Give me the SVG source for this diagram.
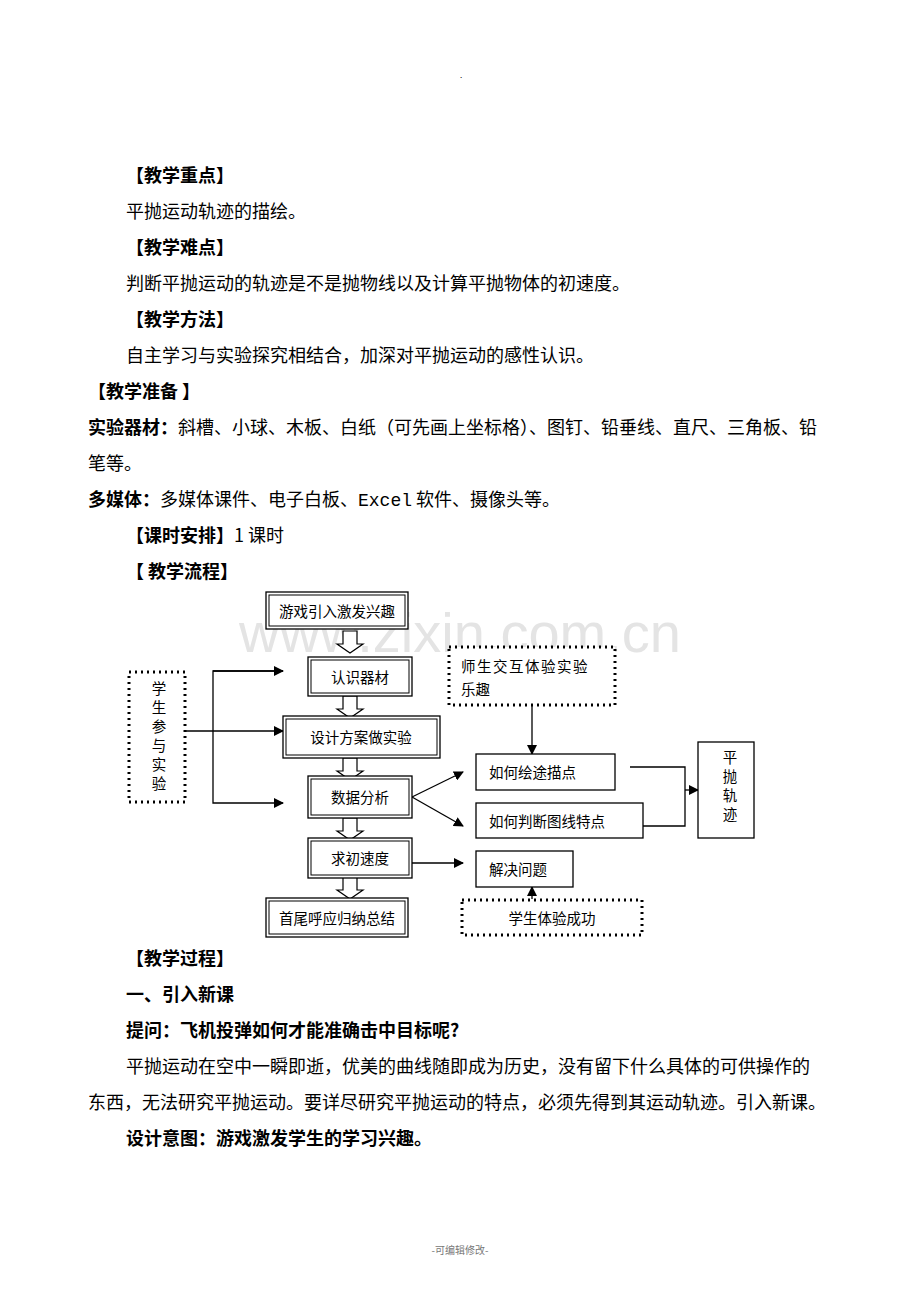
<svg xmlns="http://www.w3.org/2000/svg" width="920" height="1302" viewBox="0 0 920 1302">
<style>
text{font-family:"Noto Sans CJK SC","Liberation Sans",sans-serif;fill:#000}
.p{font-size:18px}
.b{font-size:18px;font-weight:bold}
.f{font-size:14.5px}
.box{fill:#fff;stroke:#000;stroke-width:1.3}
.dbl{fill:none;stroke:#000;stroke-width:1}
.dot{fill:#fff;stroke:#000;stroke-width:3;stroke-dasharray:2,4}
.ln{fill:none;stroke:#000;stroke-width:1.3}
.blk{fill:#fff;stroke:#000;stroke-width:1.2}
</style>
<defs>
<marker id="ah" markerWidth="10" markerHeight="10" refX="9" refY="5" orient="auto" markerUnits="userSpaceOnUse"><path d="M0,0 L10,5 L0,10 Z" fill="#000"/></marker>
<path id="blk" d="M-7,0 H7 V13 H13 L0,22 L-13,13 H-7 Z"/>
</defs>
<rect width="920" height="1302" fill="#fff"/>
<text x="460" y="78" font-size="8" fill="#999">.</text>
<text x="126" y="182" class="b">【教学重点】</text>
<text x="126" y="218" class="p">平抛运动轨迹的描绘。</text>
<text x="126" y="254" class="b">【教学难点】</text>
<text x="126" y="290" class="p">判断平抛运动的轨迹是不是抛物线以及计算平抛物体的初速度。</text>
<text x="126" y="326" class="b">【教学方法】</text>
<text x="126" y="362" class="p">自主学习与实验探究相结合，加深对平抛运动的感性认识。</text>
<text x="88" y="398" class="b">【教学准备 】</text>
<text x="88" y="434" class="p"><tspan font-weight="bold">实验器材：</tspan>斜槽、小球、木板、白纸（可先画上坐标格）、图钉、铅垂线、直尺、三角板、铅</text>
<text x="88" y="470" class="p">笔等。</text>
<text x="88" y="506" class="p"><tspan font-weight="bold">多媒体：</tspan>多媒体课件、电子白板、<tspan font-family="Liberation Mono,monospace">Excel</tspan> 软件、摄像头等。</text>
<text x="126" y="542" class="p"><tspan font-weight="bold">【课时安排】</tspan>1 课时</text>
<text x="126" y="578" class="b">【 教学流程】</text>
<text x="460" y="652" font-size="56" text-anchor="middle" style="fill:#e4e4e4;font-family:'Liberation Sans',sans-serif">www.zixin.com.cn</text>

<g id="connectors">
<use href="#blk" x="350" y="631" class="blk"/>
<use href="#blk" x="350" y="696" class="blk"/>
<use href="#blk" x="350" y="758" class="blk"/>
<use href="#blk" x="350" y="818" class="blk"/>
<use href="#blk" x="350" y="877" class="blk"/>
<path class="ln" d="M186,731 H283" marker-end="url(#ah)"/>
<path class="ln" d="M283,671 H213 V803 H283" marker-end="url(#ah)"/>
<path class="ln" d="M213,671 H283" marker-end="url(#ah)"/>
<path class="ln" d="M412,797 L463,772" marker-end="url(#ah)"/>
<path class="ln" d="M412,797 L463,826" marker-end="url(#ah)"/>
<path class="ln" d="M532,706 V754" marker-end="url(#ah)"/>
<path class="ln" d="M630,767 H685 V826 H643"/>
<path class="ln" d="M685,790 H698" marker-end="url(#ah)"/>
<path class="ln" d="M412,863 H463" marker-end="url(#ah)"/>
<path class="ln" d="M532,899 V887" marker-end="url(#ah)"/>
</g>

<g id="n1"><rect x="266" y="592" width="142" height="37" class="box"/><rect x="269" y="595" width="136" height="31" class="dbl"/><text x="337" y="617" class="f" text-anchor="middle">游戏引入激发兴趣</text></g>
<g id="n2"><rect x="308" y="657" width="104" height="39" class="box" stroke-width="2"/><rect x="311" y="660" width="98" height="33" class="dbl" stroke-width="2"/><text x="360" y="683" class="f" text-anchor="middle">认识器材</text></g>
<g id="n3"><rect x="283" y="716" width="157" height="42" class="box"/><rect x="286" y="719" width="151" height="36" class="dbl" stroke-width="2"/><text x="361" y="743" class="f" text-anchor="middle">设计方案做实验</text></g>
<g id="n4"><rect x="308" y="776" width="104" height="42" class="box"/><rect x="311" y="779" width="98" height="36" class="dbl" stroke-width="2"/><text x="360" y="803" class="f" text-anchor="middle">数据分析</text></g>
<g id="n5"><rect x="308" y="838" width="104" height="40" class="box"/><rect x="311" y="841" width="98" height="34" class="dbl" stroke-width="2"/><text x="360" y="864" class="f" text-anchor="middle">求初速度</text></g>
<g id="n6"><rect x="266" y="898" width="142" height="39" class="box"/><rect x="269" y="901" width="136" height="33" class="dbl"/><text x="337" y="924" class="f" text-anchor="middle">首尾呼应归纳总结</text></g>
<g id="n7"><rect x="129" y="672" width="56" height="130" class="dot"/><text class="f" text-anchor="middle"><tspan x="159" y="694">学</tspan><tspan x="159" y="713">生</tspan><tspan x="159" y="732">参</tspan><tspan x="159" y="751">与</tspan><tspan x="159" y="770">实</tspan><tspan x="159" y="789">验</tspan></text></g>
<g id="n8"><rect x="449" y="647" width="166" height="58" class="dot"/><text x="461" y="672" class="f" letter-spacing="1.5">师生交互体验实验</text><text x="461" y="695" class="f">乐趣</text></g>
<g id="n9"><rect x="476" y="754" width="139" height="36" class="box"/><text x="489" y="778" class="f">如何绘途描点</text></g>
<g id="n10"><rect x="476" y="803" width="167" height="35" class="box"/><text x="489" y="827" class="f">如何判断图线特点</text></g>
<g id="n11"><rect x="698" y="742" width="56" height="96" class="box"/><text class="f" text-anchor="middle"><tspan x="730" y="763">平</tspan><tspan x="730" y="782">抛</tspan><tspan x="730" y="801">轨</tspan><tspan x="730" y="820">迹</tspan></text></g>
<g id="n12"><rect x="476" y="851" width="97" height="36" class="box"/><text x="489" y="875" class="f">解决问题</text></g>
<g id="n13"><rect x="462" y="900" width="180" height="35" class="dot"/><text x="552" y="924" class="f" text-anchor="middle">学生体验成功</text></g>

<text x="126" y="965" class="b">【教学过程】</text>
<text x="126" y="1001" class="b">一、引入新课</text>
<text x="126" y="1037" class="b">提问：飞机投弹如何才能准确击中目标呢?</text>
<text x="126" y="1073" class="p">平抛运动在空中一瞬即逝，优美的曲线随即成为历史，没有留下什么具体的可供操作的</text>
<text x="88" y="1109" class="p">东西，无法研究平抛运动。要详尽研究平抛运动的特点，必须先得到其运动轨迹。引入新课。</text>
<text x="126" y="1145" class="b">设计意图：游戏激发学生的学习兴趣。</text>
<text x="460" y="1254" font-size="10" text-anchor="middle" style="fill:#777">-可编辑修改-</text>
</svg>
